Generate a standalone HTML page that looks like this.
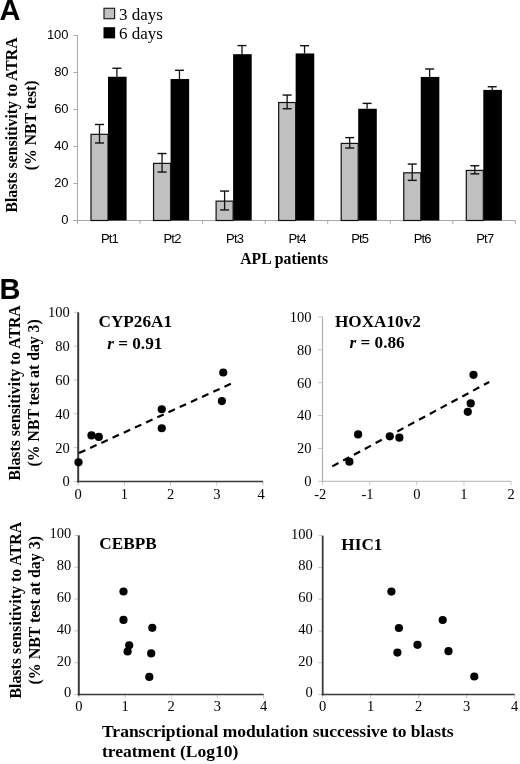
<!DOCTYPE html>
<html><head><meta charset="utf-8"><style>
html,body{margin:0;padding:0;background:#fff;}
body{width:520px;height:764px;overflow:hidden;font-family:"Liberation Sans",sans-serif;}
svg{display:block;will-change:transform;}
</style></head><body>
<svg width="520" height="764" viewBox="0 0 520 764">
<text x="-0.6" y="19.8" font-family='"Liberation Sans", sans-serif' font-weight="bold" font-size="29">A</text>
<rect x="104" y="8.3" width="10.6" height="10.4" fill="#c0c0c0" stroke="#222" stroke-width="1.2"/>
<rect x="103.5" y="27.2" width="11.6" height="11.2" fill="#000"/>
<text x="118.9" y="20" font-family='"Liberation Serif", serif' font-size="17">3 days</text>
<text x="118.9" y="38.8" font-family='"Liberation Serif", serif' font-size="17">6 days</text>
<line x1="77.5" y1="35.5" x2="77.5" y2="223.9" stroke="#a8a8a8" stroke-width="1"/>
<line x1="73.5" y1="220.50" x2="77.5" y2="220.50" stroke="#a8a8a8" stroke-width="1"/>
<text x="68.6" y="223.80" text-anchor="end" font-family='"Liberation Sans", sans-serif' font-size="13">0</text>
<line x1="73.5" y1="183.50" x2="77.5" y2="183.50" stroke="#a8a8a8" stroke-width="1"/>
<text x="68.6" y="186.80" text-anchor="end" font-family='"Liberation Sans", sans-serif' font-size="13">20</text>
<line x1="73.5" y1="146.50" x2="77.5" y2="146.50" stroke="#a8a8a8" stroke-width="1"/>
<text x="68.6" y="149.80" text-anchor="end" font-family='"Liberation Sans", sans-serif' font-size="13">40</text>
<line x1="73.5" y1="109.50" x2="77.5" y2="109.50" stroke="#a8a8a8" stroke-width="1"/>
<text x="68.6" y="112.80" text-anchor="end" font-family='"Liberation Sans", sans-serif' font-size="13">60</text>
<line x1="73.5" y1="72.50" x2="77.5" y2="72.50" stroke="#a8a8a8" stroke-width="1"/>
<text x="68.6" y="75.80" text-anchor="end" font-family='"Liberation Sans", sans-serif' font-size="13">80</text>
<line x1="73.5" y1="35.50" x2="77.5" y2="35.50" stroke="#a8a8a8" stroke-width="1"/>
<text x="68.6" y="38.80" text-anchor="end" font-family='"Liberation Sans", sans-serif' font-size="13">100</text>
<line x1="73.5" y1="220.5" x2="515.4" y2="220.5" stroke="#a8a8a8" stroke-width="1"/>
<line x1="77.50" y1="220.5" x2="77.50" y2="223.9" stroke="#a8a8a8" stroke-width="1"/>
<line x1="140.06" y1="220.5" x2="140.06" y2="223.9" stroke="#a8a8a8" stroke-width="1"/>
<line x1="202.61" y1="220.5" x2="202.61" y2="223.9" stroke="#a8a8a8" stroke-width="1"/>
<line x1="265.17" y1="220.5" x2="265.17" y2="223.9" stroke="#a8a8a8" stroke-width="1"/>
<line x1="327.73" y1="220.5" x2="327.73" y2="223.9" stroke="#a8a8a8" stroke-width="1"/>
<line x1="390.29" y1="220.5" x2="390.29" y2="223.9" stroke="#a8a8a8" stroke-width="1"/>
<line x1="452.84" y1="220.5" x2="452.84" y2="223.9" stroke="#a8a8a8" stroke-width="1"/>
<line x1="515.40" y1="220.5" x2="515.40" y2="223.9" stroke="#a8a8a8" stroke-width="1"/>
<rect x="108.00" y="76.75" width="18.60" height="143.75" fill="#000"/>
<rect x="91.00" y="134.34" width="17.00" height="86.16" fill="#c0c0c0" stroke="#111" stroke-width="1.2"/>
<line x1="99.50" y1="124.49" x2="99.50" y2="142.99" stroke="#111" stroke-width="1.3"/>
<line x1="95.00" y1="124.49" x2="104.00" y2="124.49" stroke="#111" stroke-width="1.4"/>
<line x1="95.00" y1="142.99" x2="104.00" y2="142.99" stroke="#111" stroke-width="1.4"/>
<line x1="116.90" y1="68.24" x2="116.90" y2="76.75" stroke="#111" stroke-width="1.3"/>
<line x1="112.40" y1="68.24" x2="121.40" y2="68.24" stroke="#111" stroke-width="1.4"/>
<text x="109.50" y="242.6" text-anchor="middle" font-family='"Liberation Sans", sans-serif' font-size="13" letter-spacing="-0.8">Pt1</text>
<rect x="170.55" y="78.97" width="18.60" height="141.53" fill="#000"/>
<rect x="153.55" y="163.38" width="17.00" height="57.12" fill="#c0c0c0" stroke="#111" stroke-width="1.2"/>
<line x1="162.05" y1="153.53" x2="162.05" y2="172.03" stroke="#111" stroke-width="1.3"/>
<line x1="157.55" y1="153.53" x2="166.55" y2="153.53" stroke="#111" stroke-width="1.4"/>
<line x1="157.55" y1="172.03" x2="166.55" y2="172.03" stroke="#111" stroke-width="1.4"/>
<line x1="179.45" y1="70.28" x2="179.45" y2="78.97" stroke="#111" stroke-width="1.3"/>
<line x1="174.95" y1="70.28" x2="183.95" y2="70.28" stroke="#111" stroke-width="1.4"/>
<text x="172.05" y="242.6" text-anchor="middle" font-family='"Liberation Sans", sans-serif' font-size="13" letter-spacing="-0.8">Pt2</text>
<rect x="233.10" y="54.18" width="18.60" height="166.32" fill="#000"/>
<rect x="216.10" y="201.12" width="17.00" height="19.38" fill="#c0c0c0" stroke="#111" stroke-width="1.2"/>
<line x1="224.60" y1="191.08" x2="224.60" y2="209.95" stroke="#111" stroke-width="1.3"/>
<line x1="220.10" y1="191.08" x2="229.10" y2="191.08" stroke="#111" stroke-width="1.4"/>
<line x1="220.10" y1="209.95" x2="229.10" y2="209.95" stroke="#111" stroke-width="1.4"/>
<line x1="242.00" y1="45.58" x2="242.00" y2="54.18" stroke="#111" stroke-width="1.3"/>
<line x1="237.50" y1="45.58" x2="246.50" y2="45.58" stroke="#111" stroke-width="1.4"/>
<text x="234.60" y="242.6" text-anchor="middle" font-family='"Liberation Sans", sans-serif' font-size="13" letter-spacing="-0.8">Pt3</text>
<rect x="295.65" y="53.44" width="18.60" height="167.06" fill="#000"/>
<rect x="278.65" y="102.52" width="17.00" height="117.98" fill="#c0c0c0" stroke="#111" stroke-width="1.2"/>
<line x1="287.15" y1="95.07" x2="287.15" y2="108.76" stroke="#111" stroke-width="1.3"/>
<line x1="282.65" y1="95.07" x2="291.65" y2="95.07" stroke="#111" stroke-width="1.4"/>
<line x1="282.65" y1="108.76" x2="291.65" y2="108.76" stroke="#111" stroke-width="1.4"/>
<line x1="304.55" y1="45.67" x2="304.55" y2="53.44" stroke="#111" stroke-width="1.3"/>
<line x1="300.05" y1="45.67" x2="309.05" y2="45.67" stroke="#111" stroke-width="1.4"/>
<text x="297.15" y="242.6" text-anchor="middle" font-family='"Liberation Sans", sans-serif' font-size="13" letter-spacing="-0.8">Pt4</text>
<rect x="358.20" y="108.76" width="18.60" height="111.74" fill="#000"/>
<rect x="341.20" y="143.40" width="17.00" height="77.10" fill="#c0c0c0" stroke="#111" stroke-width="1.2"/>
<line x1="349.70" y1="137.62" x2="349.70" y2="147.98" stroke="#111" stroke-width="1.3"/>
<line x1="345.20" y1="137.62" x2="354.20" y2="137.62" stroke="#111" stroke-width="1.4"/>
<line x1="345.20" y1="147.98" x2="354.20" y2="147.98" stroke="#111" stroke-width="1.4"/>
<line x1="367.10" y1="103.39" x2="367.10" y2="108.76" stroke="#111" stroke-width="1.3"/>
<line x1="362.60" y1="103.39" x2="371.60" y2="103.39" stroke="#111" stroke-width="1.4"/>
<text x="359.70" y="242.6" text-anchor="middle" font-family='"Liberation Sans", sans-serif' font-size="13" letter-spacing="-0.8">Pt5</text>
<rect x="420.75" y="76.94" width="18.60" height="143.56" fill="#000"/>
<rect x="403.75" y="172.81" width="17.00" height="47.68" fill="#c0c0c0" stroke="#111" stroke-width="1.2"/>
<line x1="412.25" y1="164.07" x2="412.25" y2="180.36" stroke="#111" stroke-width="1.3"/>
<line x1="407.75" y1="164.07" x2="416.75" y2="164.07" stroke="#111" stroke-width="1.4"/>
<line x1="407.75" y1="180.36" x2="416.75" y2="180.36" stroke="#111" stroke-width="1.4"/>
<line x1="429.65" y1="68.98" x2="429.65" y2="76.94" stroke="#111" stroke-width="1.3"/>
<line x1="425.15" y1="68.98" x2="434.15" y2="68.98" stroke="#111" stroke-width="1.4"/>
<text x="422.25" y="242.6" text-anchor="middle" font-family='"Liberation Sans", sans-serif' font-size="13" letter-spacing="-0.8">Pt6</text>
<rect x="483.30" y="89.89" width="18.60" height="130.61" fill="#000"/>
<rect x="466.30" y="170.41" width="17.00" height="50.09" fill="#c0c0c0" stroke="#111" stroke-width="1.2"/>
<line x1="474.80" y1="165.74" x2="474.80" y2="173.88" stroke="#111" stroke-width="1.3"/>
<line x1="470.30" y1="165.74" x2="479.30" y2="165.74" stroke="#111" stroke-width="1.4"/>
<line x1="470.30" y1="173.88" x2="479.30" y2="173.88" stroke="#111" stroke-width="1.4"/>
<line x1="492.20" y1="86.75" x2="492.20" y2="89.89" stroke="#111" stroke-width="1.3"/>
<line x1="487.70" y1="86.75" x2="496.70" y2="86.75" stroke="#111" stroke-width="1.4"/>
<text x="484.80" y="242.6" text-anchor="middle" font-family='"Liberation Sans", sans-serif' font-size="13" letter-spacing="-0.8">Pt7</text>
<text x="240.2" y="263.7" font-family='"Liberation Serif", serif' font-weight="bold" font-size="15.75">APL patients</text>
<text transform="translate(17.1,125) rotate(-90)" text-anchor="middle" font-family='"Liberation Serif", serif' font-weight="bold" font-size="15.75">Blasts sensitivity to ATRA</text>
<text transform="translate(35.6,125.4) rotate(-90)" text-anchor="middle" font-family='"Liberation Serif", serif' font-weight="bold" font-size="15.75">(% NBT test)</text>
<text x="-0.4" y="298.7" font-family='"Liberation Sans", sans-serif' font-weight="bold" font-size="29">B</text>
<text transform="translate(20.3,392.85) rotate(-90)" text-anchor="middle" font-family='"Liberation Serif", serif' font-weight="bold" font-size="15.75">Blasts sensitivity to ATRA</text>
<text transform="translate(39.1,392.85) rotate(-90)" text-anchor="middle" font-family='"Liberation Serif", serif' font-weight="bold" font-size="15.75">(% NBT test at day 3)</text>
<text transform="translate(21.2,610.25) rotate(-90)" text-anchor="middle" font-family='"Liberation Serif", serif' font-weight="bold" font-size="15.9">Blasts sensitivity to ATRA</text>
<text transform="translate(39.7,610.25) rotate(-90)" text-anchor="middle" font-family='"Liberation Serif", serif' font-weight="bold" font-size="15.9">(% NBT test at day 3)</text>
<line x1="73.70" y1="481.50" x2="78.20" y2="481.50" stroke="#c8c8c8" stroke-width="1"/>
<text x="69.80" y="486.40" text-anchor="end" font-family='"Liberation Serif", serif' font-size="14.5">0</text>
<line x1="73.70" y1="447.66" x2="78.20" y2="447.66" stroke="#c8c8c8" stroke-width="1"/>
<text x="69.80" y="452.56" text-anchor="end" font-family='"Liberation Serif", serif' font-size="14.5">20</text>
<line x1="73.70" y1="413.82" x2="78.20" y2="413.82" stroke="#c8c8c8" stroke-width="1"/>
<text x="69.80" y="418.72" text-anchor="end" font-family='"Liberation Serif", serif' font-size="14.5">40</text>
<line x1="73.70" y1="379.98" x2="78.20" y2="379.98" stroke="#c8c8c8" stroke-width="1"/>
<text x="69.80" y="384.88" text-anchor="end" font-family='"Liberation Serif", serif' font-size="14.5">60</text>
<line x1="73.70" y1="346.14" x2="78.20" y2="346.14" stroke="#c8c8c8" stroke-width="1"/>
<text x="69.80" y="351.04" text-anchor="end" font-family='"Liberation Serif", serif' font-size="14.5">80</text>
<line x1="73.70" y1="312.30" x2="78.20" y2="312.30" stroke="#c8c8c8" stroke-width="1"/>
<text x="69.80" y="317.20" text-anchor="end" font-family='"Liberation Serif", serif' font-size="14.5">100</text>
<line x1="78.20" y1="481.50" x2="78.20" y2="485.50" stroke="#c8c8c8" stroke-width="1"/>
<text x="78.20" y="499.30" text-anchor="middle" font-family='"Liberation Serif", serif' font-size="14.5">0</text>
<line x1="124.40" y1="481.50" x2="124.40" y2="485.50" stroke="#c8c8c8" stroke-width="1"/>
<text x="124.40" y="499.30" text-anchor="middle" font-family='"Liberation Serif", serif' font-size="14.5">1</text>
<line x1="170.60" y1="481.50" x2="170.60" y2="485.50" stroke="#c8c8c8" stroke-width="1"/>
<text x="170.60" y="499.30" text-anchor="middle" font-family='"Liberation Serif", serif' font-size="14.5">2</text>
<line x1="216.80" y1="481.50" x2="216.80" y2="485.50" stroke="#c8c8c8" stroke-width="1"/>
<text x="216.80" y="499.30" text-anchor="middle" font-family='"Liberation Serif", serif' font-size="14.5">3</text>
<line x1="263.00" y1="481.50" x2="263.00" y2="485.50" stroke="#c8c8c8" stroke-width="1"/>
<text x="261.00" y="499.30" text-anchor="middle" font-family='"Liberation Serif", serif' font-size="14.5">4</text>
<line x1="78.20" y1="312.30" x2="78.20" y2="482.50" stroke="#3a3a3a" stroke-width="2"/>
<line x1="77.20" y1="481.50" x2="263.00" y2="481.50" stroke="#3a3a3a" stroke-width="1.60"/>
<text x="135.30" y="327.20" text-anchor="middle" font-family='"Liberation Serif", serif' font-weight="bold" font-size="17.2">CYP26A1</text>
<text x="134.75" y="348.50" text-anchor="middle" font-family='"Liberation Serif", serif' font-weight="bold" font-size="17.2"><tspan font-style="italic">r</tspan> = 0.91</text>
<line x1="79.0" y1="453.1" x2="231.2" y2="383.6" stroke="#000" stroke-width="2.2" stroke-dasharray="7 5.3"/>
<circle cx="78.50" cy="462.30" r="4.1" fill="#000"/>
<circle cx="91.50" cy="435.40" r="4.1" fill="#000"/>
<circle cx="98.80" cy="436.90" r="4.1" fill="#000"/>
<circle cx="161.75" cy="409.25" r="4.1" fill="#000"/>
<circle cx="161.75" cy="428.25" r="4.1" fill="#000"/>
<circle cx="223.25" cy="372.50" r="4.1" fill="#000"/>
<circle cx="221.90" cy="401.10" r="4.1" fill="#000"/>
<line x1="318.00" y1="481.30" x2="322.50" y2="481.30" stroke="#c8c8c8" stroke-width="1"/>
<text x="311.60" y="486.20" text-anchor="end" font-family='"Liberation Serif", serif' font-size="14.5">0</text>
<line x1="318.00" y1="448.42" x2="322.50" y2="448.42" stroke="#c8c8c8" stroke-width="1"/>
<text x="311.60" y="453.32" text-anchor="end" font-family='"Liberation Serif", serif' font-size="14.5">20</text>
<line x1="318.00" y1="415.54" x2="322.50" y2="415.54" stroke="#c8c8c8" stroke-width="1"/>
<text x="311.60" y="420.44" text-anchor="end" font-family='"Liberation Serif", serif' font-size="14.5">40</text>
<line x1="318.00" y1="382.66" x2="322.50" y2="382.66" stroke="#c8c8c8" stroke-width="1"/>
<text x="311.60" y="387.56" text-anchor="end" font-family='"Liberation Serif", serif' font-size="14.5">60</text>
<line x1="318.00" y1="349.78" x2="322.50" y2="349.78" stroke="#c8c8c8" stroke-width="1"/>
<text x="311.60" y="354.68" text-anchor="end" font-family='"Liberation Serif", serif' font-size="14.5">80</text>
<line x1="318.00" y1="316.90" x2="322.50" y2="316.90" stroke="#c8c8c8" stroke-width="1"/>
<text x="311.60" y="321.80" text-anchor="end" font-family='"Liberation Serif", serif' font-size="14.5">100</text>
<line x1="322.50" y1="481.30" x2="322.50" y2="485.30" stroke="#c8c8c8" stroke-width="1"/>
<text x="320.30" y="499.10" text-anchor="middle" font-family='"Liberation Serif", serif' font-size="14.5">-2</text>
<line x1="369.65" y1="481.30" x2="369.65" y2="485.30" stroke="#c8c8c8" stroke-width="1"/>
<text x="367.45" y="499.10" text-anchor="middle" font-family='"Liberation Serif", serif' font-size="14.5">-1</text>
<line x1="416.80" y1="481.30" x2="416.80" y2="485.30" stroke="#c8c8c8" stroke-width="1"/>
<text x="416.80" y="499.10" text-anchor="middle" font-family='"Liberation Serif", serif' font-size="14.5">0</text>
<line x1="463.95" y1="481.30" x2="463.95" y2="485.30" stroke="#c8c8c8" stroke-width="1"/>
<text x="463.95" y="499.10" text-anchor="middle" font-family='"Liberation Serif", serif' font-size="14.5">1</text>
<line x1="511.10" y1="481.30" x2="511.10" y2="485.30" stroke="#c8c8c8" stroke-width="1"/>
<text x="511.10" y="499.10" text-anchor="middle" font-family='"Liberation Serif", serif' font-size="14.5">2</text>
<line x1="322.50" y1="316.90" x2="322.50" y2="481.90" stroke="#b0b0b0" stroke-width="1.2"/>
<line x1="321.90" y1="481.30" x2="511.10" y2="481.30" stroke="#b0b0b0" stroke-width="0.96"/>
<text x="377.90" y="327.30" text-anchor="middle" font-family='"Liberation Serif", serif' font-weight="bold" font-size="17.2">HOXA10v2</text>
<text x="377.10" y="348.00" text-anchor="middle" font-family='"Liberation Serif", serif' font-weight="bold" font-size="17.2"><tspan font-style="italic">r</tspan> = 0.86</text>
<line x1="332.3" y1="466.4" x2="489.2" y2="382.0" stroke="#000" stroke-width="2.2" stroke-dasharray="7 5.3"/>
<circle cx="349.40" cy="461.70" r="4.1" fill="#000"/>
<circle cx="358.10" cy="434.40" r="4.1" fill="#000"/>
<circle cx="389.80" cy="436.30" r="4.1" fill="#000"/>
<circle cx="399.40" cy="437.70" r="4.1" fill="#000"/>
<circle cx="473.50" cy="374.80" r="4.1" fill="#000"/>
<circle cx="470.70" cy="403.40" r="4.1" fill="#000"/>
<circle cx="467.80" cy="411.80" r="4.1" fill="#000"/>
<line x1="74.30" y1="694.50" x2="78.80" y2="694.50" stroke="#c8c8c8" stroke-width="1"/>
<text x="71.30" y="697.40" text-anchor="end" font-family='"Liberation Serif", serif' font-size="14.5">0</text>
<line x1="74.30" y1="662.68" x2="78.80" y2="662.68" stroke="#c8c8c8" stroke-width="1"/>
<text x="71.30" y="665.58" text-anchor="end" font-family='"Liberation Serif", serif' font-size="14.5">20</text>
<line x1="74.30" y1="630.86" x2="78.80" y2="630.86" stroke="#c8c8c8" stroke-width="1"/>
<text x="71.30" y="633.76" text-anchor="end" font-family='"Liberation Serif", serif' font-size="14.5">40</text>
<line x1="74.30" y1="599.04" x2="78.80" y2="599.04" stroke="#c8c8c8" stroke-width="1"/>
<text x="71.30" y="601.94" text-anchor="end" font-family='"Liberation Serif", serif' font-size="14.5">60</text>
<line x1="74.30" y1="567.22" x2="78.80" y2="567.22" stroke="#c8c8c8" stroke-width="1"/>
<text x="71.30" y="570.12" text-anchor="end" font-family='"Liberation Serif", serif' font-size="14.5">80</text>
<line x1="74.30" y1="535.40" x2="78.80" y2="535.40" stroke="#c8c8c8" stroke-width="1"/>
<text x="71.30" y="538.30" text-anchor="end" font-family='"Liberation Serif", serif' font-size="14.5">100</text>
<line x1="78.80" y1="694.50" x2="78.80" y2="698.50" stroke="#c8c8c8" stroke-width="1"/>
<text x="78.80" y="710.90" text-anchor="middle" font-family='"Liberation Serif", serif' font-size="14.5">0</text>
<line x1="125.00" y1="694.50" x2="125.00" y2="698.50" stroke="#c8c8c8" stroke-width="1"/>
<text x="125.00" y="710.90" text-anchor="middle" font-family='"Liberation Serif", serif' font-size="14.5">1</text>
<line x1="171.20" y1="694.50" x2="171.20" y2="698.50" stroke="#c8c8c8" stroke-width="1"/>
<text x="171.20" y="710.90" text-anchor="middle" font-family='"Liberation Serif", serif' font-size="14.5">2</text>
<line x1="217.40" y1="694.50" x2="217.40" y2="698.50" stroke="#c8c8c8" stroke-width="1"/>
<text x="217.40" y="710.90" text-anchor="middle" font-family='"Liberation Serif", serif' font-size="14.5">3</text>
<line x1="263.60" y1="694.50" x2="263.60" y2="698.50" stroke="#c8c8c8" stroke-width="1"/>
<text x="263.60" y="710.90" text-anchor="middle" font-family='"Liberation Serif", serif' font-size="14.5">4</text>
<line x1="78.80" y1="535.40" x2="78.80" y2="695.50" stroke="#3a3a3a" stroke-width="2"/>
<line x1="77.80" y1="694.50" x2="263.60" y2="694.50" stroke="#3a3a3a" stroke-width="1.60"/>
<text x="128.00" y="548.80" text-anchor="middle" font-family='"Liberation Serif", serif' font-weight="bold" font-size="17.2">CEBPB</text>
<circle cx="123.50" cy="591.50" r="4.1" fill="#000"/>
<circle cx="123.50" cy="619.90" r="4.1" fill="#000"/>
<circle cx="129.20" cy="645.30" r="4.1" fill="#000"/>
<circle cx="127.60" cy="651.50" r="4.1" fill="#000"/>
<circle cx="152.30" cy="627.80" r="4.1" fill="#000"/>
<circle cx="151.20" cy="653.40" r="4.1" fill="#000"/>
<circle cx="149.30" cy="676.90" r="4.1" fill="#000"/>
<line x1="318.20" y1="694.50" x2="322.70" y2="694.50" stroke="#c8c8c8" stroke-width="1"/>
<text x="312.80" y="697.40" text-anchor="end" font-family='"Liberation Serif", serif' font-size="14.5">0</text>
<line x1="318.20" y1="662.74" x2="322.70" y2="662.74" stroke="#c8c8c8" stroke-width="1"/>
<text x="312.80" y="665.64" text-anchor="end" font-family='"Liberation Serif", serif' font-size="14.5">20</text>
<line x1="318.20" y1="630.98" x2="322.70" y2="630.98" stroke="#c8c8c8" stroke-width="1"/>
<text x="312.80" y="633.88" text-anchor="end" font-family='"Liberation Serif", serif' font-size="14.5">40</text>
<line x1="318.20" y1="599.22" x2="322.70" y2="599.22" stroke="#c8c8c8" stroke-width="1"/>
<text x="312.80" y="602.12" text-anchor="end" font-family='"Liberation Serif", serif' font-size="14.5">60</text>
<line x1="318.20" y1="567.46" x2="322.70" y2="567.46" stroke="#c8c8c8" stroke-width="1"/>
<text x="312.80" y="570.36" text-anchor="end" font-family='"Liberation Serif", serif' font-size="14.5">80</text>
<line x1="318.20" y1="535.70" x2="322.70" y2="535.70" stroke="#c8c8c8" stroke-width="1"/>
<text x="312.80" y="538.60" text-anchor="end" font-family='"Liberation Serif", serif' font-size="14.5">100</text>
<line x1="322.70" y1="694.50" x2="322.70" y2="698.50" stroke="#c8c8c8" stroke-width="1"/>
<text x="322.70" y="710.90" text-anchor="middle" font-family='"Liberation Serif", serif' font-size="14.5">0</text>
<line x1="370.70" y1="694.50" x2="370.70" y2="698.50" stroke="#c8c8c8" stroke-width="1"/>
<text x="370.70" y="710.90" text-anchor="middle" font-family='"Liberation Serif", serif' font-size="14.5">1</text>
<line x1="418.70" y1="694.50" x2="418.70" y2="698.50" stroke="#c8c8c8" stroke-width="1"/>
<text x="418.70" y="710.90" text-anchor="middle" font-family='"Liberation Serif", serif' font-size="14.5">2</text>
<line x1="466.70" y1="694.50" x2="466.70" y2="698.50" stroke="#c8c8c8" stroke-width="1"/>
<text x="466.70" y="710.90" text-anchor="middle" font-family='"Liberation Serif", serif' font-size="14.5">3</text>
<line x1="514.70" y1="694.50" x2="514.70" y2="698.50" stroke="#c8c8c8" stroke-width="1"/>
<text x="514.70" y="710.90" text-anchor="middle" font-family='"Liberation Serif", serif' font-size="14.5">4</text>
<line x1="322.70" y1="535.70" x2="322.70" y2="695.40" stroke="#3a3a3a" stroke-width="1.8"/>
<line x1="321.80" y1="694.50" x2="514.70" y2="694.50" stroke="#3a3a3a" stroke-width="1.44"/>
<text x="361.90" y="549.50" text-anchor="middle" font-family='"Liberation Serif", serif' font-weight="bold" font-size="17.2">HIC1</text>
<circle cx="391.40" cy="591.60" r="4.1" fill="#000"/>
<circle cx="398.90" cy="628.00" r="4.1" fill="#000"/>
<circle cx="397.40" cy="652.60" r="4.1" fill="#000"/>
<circle cx="417.50" cy="644.80" r="4.1" fill="#000"/>
<circle cx="442.70" cy="620.00" r="4.1" fill="#000"/>
<circle cx="448.50" cy="651.20" r="4.1" fill="#000"/>
<circle cx="474.30" cy="676.50" r="4.1" fill="#000"/>
<text x="102.0" y="737.3" font-family='"Liberation Serif", serif' font-weight="bold" font-size="17.5">Transcriptional modulation successive to blasts</text>
<text x="102.0" y="757.3" font-family='"Liberation Serif", serif' font-weight="bold" font-size="17.5">treatment (Log10)</text>
</svg>
</body></html>
